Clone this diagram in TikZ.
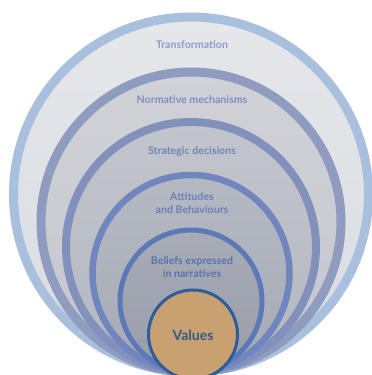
\documentclass[tikz,border=0pt]{standalone}
\usepackage{fontspec}
\setmainfont{Lato}
\begin{document}
\begin{tikzpicture}[x=1pt,y=-1pt,
  ring/.style={circle,inner sep=0pt,outer sep=0pt},
  lbl/.style={font=\bfseries\fontsize{10.6}{12.5}\selectfont,align=center,inner sep=0pt}]
\definecolor{rA}{HTML}{A8C0DD}\definecolor{fA}{HTML}{E5E7EB}\definecolor{fAb}{HTML}{D8DBE0}
\definecolor{rB}{HTML}{8F9CC0}\definecolor{fB}{HTML}{D0D2D7}\definecolor{fBb}{HTML}{C3C6CD}
\definecolor{rC}{HTML}{8291BC}\definecolor{fC}{HTML}{C2C5CB}\definecolor{fCb}{HTML}{B3B7C0}
\definecolor{rD}{HTML}{7186BE}\definecolor{fD}{HTML}{B5B9C2}\definecolor{fDb}{HTML}{A5AAB5}
\definecolor{rE}{HTML}{5C78B6}\definecolor{fE}{HTML}{A7ACB6}\definecolor{fEb}{HTML}{979DAA}
\definecolor{rV}{HTML}{2E5D9C}\definecolor{fV}{HTML}{C9A06F}
\definecolor{tA}{HTML}{8A9CC8}\definecolor{tB}{HTML}{7D8FC0}\definecolor{tC}{HTML}{6F84BA}
\definecolor{tD}{HTML}{6A80B8}\definecolor{tE}{HTML}{5672B0}\definecolor{tV}{HTML}{2E5A92}
\useasboundingbox[fill=white] (0,0) rectangle (372,375);
\begin{scope}
\clip (0,0) rectangle (372,375);
\node[ring,minimum size=355pt,draw=rA,line width=9pt,top color=fA,bottom color=fAb] (c1) at (191,194.5) {};
\node[ring,minimum size=300pt,draw=rB,line width=9pt,top color=fB,bottom color=fBb] (c2) at (191,222) {};
\node[ring,minimum size=250pt,draw=rC,line width=8pt,top color=fC,bottom color=fCb] (c3) at (191,247) {};
\node[ring,minimum size=197pt,draw=rD,line width=6.5pt,top color=fD,bottom color=fDb] (c4) at (191,273.5) {};
\node[ring,minimum size=142pt,draw=rE,line width=5pt,top color=fE,bottom color=fEb] (c5) at (191,301) {};
\node[ring,minimum size=89pt,draw=rV,line width=3pt,fill=fV] (c6) at (193,334.5) {};
\end{scope}
\node[lbl,text=tA] (t1) at (192,45) {Transformation};
\node[lbl,text=tB] (t2) at (192,100) {Normative mechanisms};
\node[lbl,text=tC] (t3) at (192,152) {Strategic decisions};
\node[lbl,text=tD] (t4) at (192,203) {Attitudes\\and Behaviours};
\node[lbl,text=tE] (t5) at (192,267) {Beliefs expressed\\in narratives};
\node[lbl,text=tV,font=\bfseries\fontsize{14}{16}\selectfont] (t6) at (193,335) {Values};
\end{tikzpicture}
\end{document}
